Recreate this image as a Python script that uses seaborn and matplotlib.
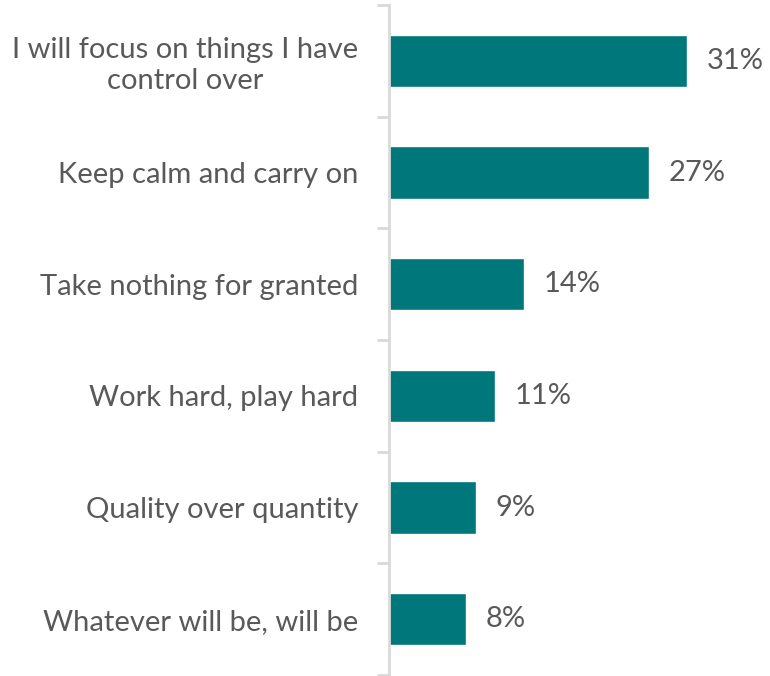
import matplotlib
matplotlib.use("Agg")
import matplotlib.pyplot as plt
import seaborn as sns
import pandas as pd

categories = [
    "I will focus on things I have\ncontrol over",
    "Keep calm and carry on",
    "Take nothing for granted",
    "Work hard, play hard",
    "Quality over quantity",
    "Whatever will be, will be",
]
values = [31, 27, 14, 11, 9, 8]

df = pd.DataFrame({"motto": categories, "share": values})

sns.set_theme(style="white")
plt.rcParams["font.family"] = ["Lato", "DejaVu Sans"]

text_grey = "#595959"
teal = "#00777A"
axis_grey = "#D9D9D9"

fig = plt.figure(figsize=(7.7, 6.76), dpi=100)
ax = fig.add_axes([389 / 770, 1 / 676, 1 - 389 / 770, 670 / 676])

sns.barplot(data=df, x="share", y="motto", color=teal, width=0.47,
            saturation=1, ax=ax)

ax.set_xlim(0, 39.6)
ax.set_ylim(len(categories) - 0.5, -0.5)
ax.set_xlabel("")
ax.set_ylabel("")
ax.set_xticks([])

for s in ["top", "right", "bottom"]:
    ax.spines[s].set_visible(False)
ax.spines["left"].set_color(axis_grey)
ax.spines["left"].set_linewidth(2)

ax.set_yticks([i - 0.5 for i in range(len(categories) + 1)], minor=True)
ax.tick_params(axis="y", which="minor", length=9, width=2, color=axis_grey,
               direction="out", left=True)
ax.tick_params(axis="y", which="major", length=0, pad=22, labelsize=21,
               labelcolor=text_grey)
for lab in ax.get_yticklabels():
    lab.set_horizontalalignment("right")
    lab.set_multialignment("center")
    lab.set_linespacing(1.2)

for i, v in enumerate(values):
    ax.annotate(f"{v}%", xy=(v, i), xytext=(14, 0), textcoords="offset points",
                va="center", ha="left", fontsize=21, color=text_grey)

fig.savefig("out.png", dpi=100)
